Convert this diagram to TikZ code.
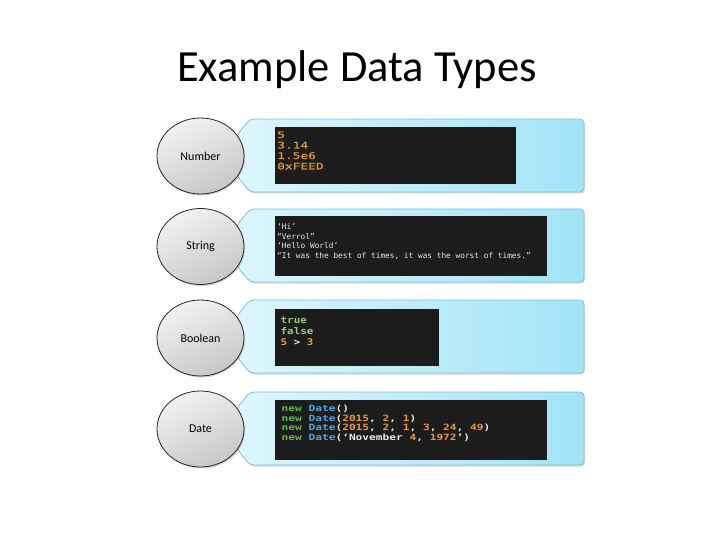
\documentclass[tikz,border=0pt]{standalone}
\usepackage{fontspec}
\setmainfont{Carlito}
\newfontfamily\codeA[FakeStretch=1.4,FakeBold=0.6]{DejaVu Sans Mono}
\newfontfamily\codeB{DejaVu Sans Mono}
\newfontfamily\codeC[FakeStretch=1.18]{DejaVu Sans Mono}
\newfontfamily\codeD[FakeStretch=1.3]{DejaVu Sans Mono}
\usetikzlibrary{shadows,shapes.geometric}
\definecolor{orng}{HTML}{E8993C}
\definecolor{lgreen}{HTML}{8FD06E}
\definecolor{dgreen}{HTML}{5DBB46}
\definecolor{dblue}{HTML}{4DA6E0}
\definecolor{wtxt}{HTML}{EAEAEA}
\definecolor{codebg}{HTML}{1C1C1C}
\definecolor{calloutL}{HTML}{DDF6FD}
\definecolor{calloutR}{HTML}{A2E3F8}
\definecolor{calloutE}{HTML}{7CC3D8}
\tikzset{
  typeell/.style={ellipse, minimum width=87pt, minimum height=76pt, inner sep=0pt,
    draw=black!85, line width=0.8pt, top color=white!95!black, bottom color=black!22,
    shading angle=25, font=\fontsize{12}{14}\selectfont,
    drop shadow={opacity=0.35, shadow xshift=1pt, shadow yshift=-1.5pt}},
  callout/.style={draw=calloutE, line width=0.8pt, left color=calloutL, right color=calloutR,
    rounded corners=4pt, drop shadow={opacity=0.3, shadow xshift=1pt, shadow yshift=-1.5pt}},
  codebox/.style={fill=codebg, draw=codebg},
  cA/.style={anchor=base west, inner sep=0pt, font=\codeA\fontsize{9.2}{10}\selectfont, text=orng},
  cB/.style={anchor=base west, inner sep=0pt, font=\codeB\fontsize{7.8}{10}\selectfont, text=wtxt},
  cC/.style={anchor=base west, inner sep=0pt, font=\codeC\fontsize{9.2}{10}\selectfont\bfseries},
  cD/.style={anchor=base west, inner sep=0pt, font=\codeD\fontsize{8.6}{10}\selectfont\bfseries, text=wtxt},
}
\begin{document}
\begin{tikzpicture}[x=1pt, y=-1pt]
\useasboundingbox (0,0) rectangle (720,540);
\node[anchor=base, inner sep=0pt, font=\fontsize{44.5}{52}\selectfont] (title) at (357,82) {Example Data Types};

% callouts
\foreach \t/\b in {119/192, 209/282, 300/373, 392/465}{
  \path[callout] (237,\t+16) -- (250,\t) -- (584,\t) -- (584,\b) -- (250,\b) -- (237,\b-16) -- cycle;
}

% ellipses
\node[typeell] (num) at (200.5,156) {Number};
\node[typeell] (str) at (200.5,246.5) {String};
\node[typeell] (bool) at (200.5,338) {Boolean};
\node[typeell] (date) at (200.5,429) {Date};

% code boxes
\path[codebox] (275,127) rectangle (515,183);
\path[codebox] (275,216) rectangle (546,275);
\path[codebox] (275,309) rectangle (438,365);
\path[codebox] (275,400) rectangle (546,459);

% number
\node[cA] (n1) at (277,138) {5};
\node[cA] (n2) at (277,148.5) {3.14};
\node[cA] (n3) at (277,159) {1.5e6};
\node[cA] (n4) at (277,169.5) {0xFEED};

% string
\node[cB] (s1) at (277,229.5) {‘Hi’};
\node[cB] (s2) at (277,239.2) {“Verrol”};
\node[cB] (s3) at (277,248.9) {‘Hello World’};
\node[cB] (s4) at (277,258.6) {“It was the best of times, it was the worst of times.”};

% boolean
\node[cC, text=lgreen] (b1) at (280.5,323.5) {true};
\node[cC, text=lgreen] (b2) at (280.5,334.5) {false};
\node[cC, text=orng] (b3) at (280.5,345.5) {5 \textcolor{wtxt}{>} 3};

% date
\node[cD] (d1) at (281.5,411.5) {\textcolor{dgreen}{new} \textcolor{dblue}{Date}()};
\node[cD] (d2) at (281.5,421) {\textcolor{dgreen}{new} \textcolor{dblue}{Date}(\textcolor{orng}{2015}, \textcolor{orng}{2}, \textcolor{orng}{1})};
\node[cD] (d3) at (281.5,430.5) {\textcolor{dgreen}{new} \textcolor{dblue}{Date}(\textcolor{orng}{2015}, \textcolor{orng}{2}, \textcolor{orng}{1}, \textcolor{orng}{3}, \textcolor{orng}{24}, \textcolor{orng}{49})};
\node[cD] (d4) at (281.5,440) {\textcolor{dgreen}{new} \textcolor{dblue}{Date}(‘November \textcolor{orng}{4}, \textcolor{orng}{1972}’)};
\end{tikzpicture}
\end{document}
